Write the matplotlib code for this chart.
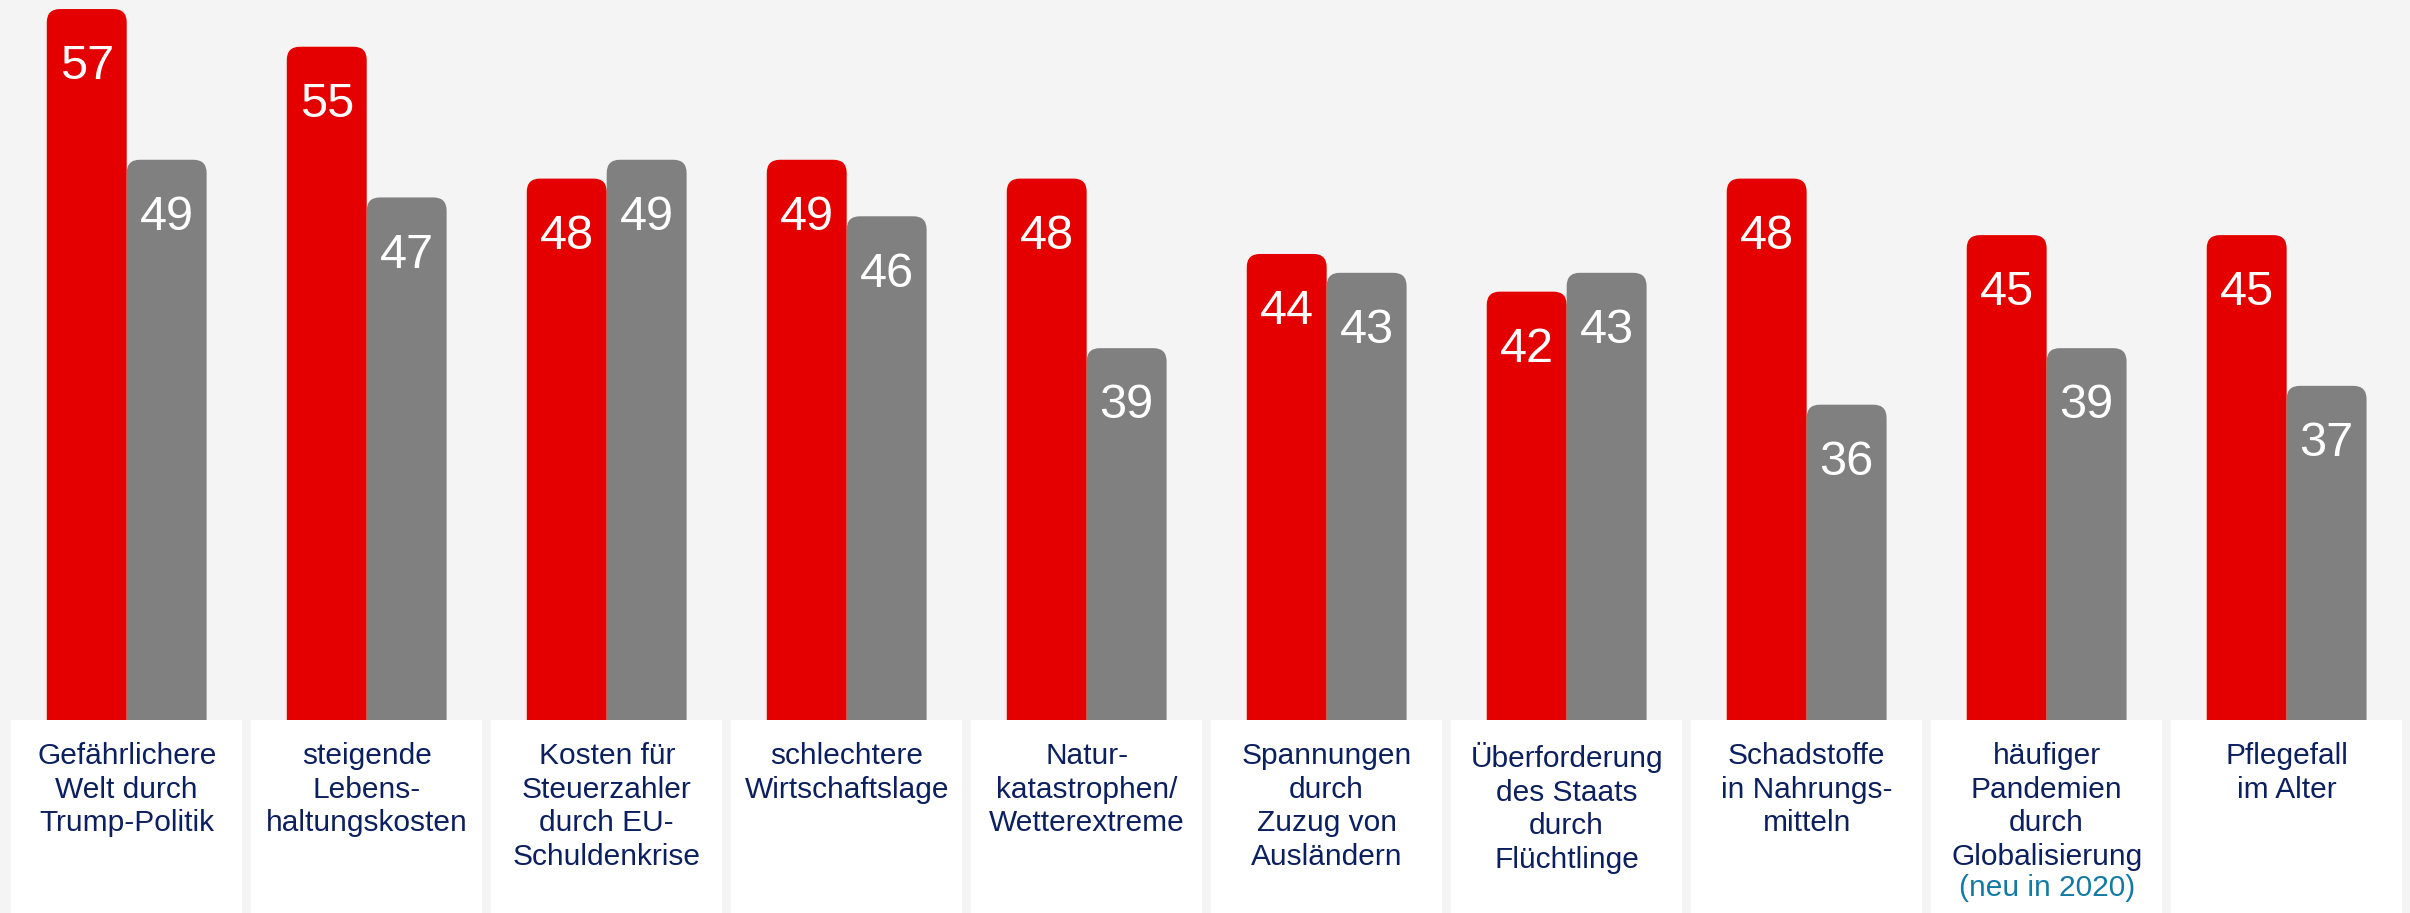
import matplotlib
matplotlib.use('Agg')
import matplotlib.pyplot as plt
from matplotlib.patches import FancyBboxPatch, Rectangle
from matplotlib.transforms import blended_transform_factory

# --- data ---
categories = [
    'Gefährlichere\nWelt durch\nTrump-Politik',
    'steigende\nLebens-\nhaltungskosten',
    'Kosten für\nSteuerzahler\ndurch EU-\nSchuldenkrise',
    'schlechtere\nWirtschaftslage',
    'Natur-\nkatastrophen/\nWetterextreme',
    'Spannungen\ndurch\nZuzug von\nAusländern',
    'Überforderung\ndes Staats\ndurch\nFlüchtlinge',
    'Schadstoffe\nin Nahrungs-\nmitteln',
    'häufiger\nPandemien\ndurch\nGlobalisierung',
    'Pflegefall\nim Alter',
]
notes = ['', '', '', '', '', '', '', '', '(neu in 2020)', '']
red_values = [57, 55, 48, 49, 48, 44, 42, 48, 45, 45]
gray_values = [49, 47, 49, 46, 39, 43, 43, 36, 39, 37]

RED = '#e50000'
GRAY = '#808080'
NAVY = '#0c1f5e'
TEAL = '#147aa3'
BG = '#f4f4f4'

plt.rcParams['font.family'] = ['Liberation Sans', 'DejaVu Sans']

fig = plt.figure(figsize=(24.1, 9.13), dpi=100)
fig.patch.set_facecolor(BG)
ax = fig.add_axes([0, 0, 1, 1])
ax.set_facecolor(BG)
ax.set_xlim(-0.528, 9.514)
ax.set_ylim(9.02, 57.48)
ax.axis('off')

bar_w = 0.333
# x units are 240 px, y units ~18.84 px -> keep round corners circular
aspect = 240 / 18.84
radius = 0.055

for i, (r, g) in enumerate(zip(red_values, gray_values)):
    for val, left, col in [(r, i - bar_w, RED), (g, i, GRAY)]:
        p = FancyBboxPatch((left, 0), bar_w, val,
                           boxstyle='round,pad=0,rounding_size=%f' % radius,
                           mutation_aspect=aspect,
                           facecolor=col, edgecolor='none', zorder=2)
        ax.add_patch(p)
        ax.annotate(str(val), (left + bar_w / 2, val), xytext=(0, -38),
                    textcoords='offset points', ha='center',
                    va='center_baseline', color='white', fontsize=35,
                    zorder=4)

# --- label boxes below the bars ---
trans = blended_transform_factory(ax.transData, ax.transAxes)
box_w = 0.9625
box_top = 193 / 913
for i, (cat, note) in enumerate(zip(categories, notes)):
    ax.add_patch(Rectangle((i - box_w / 2, 0), box_w, box_top, transform=trans,
                           facecolor='white', edgecolor='none', zorder=3,
                           clip_on=False))
    ax.text(i, 1 - 742 / 913, cat, transform=trans, ha='center', va='top',
            color=NAVY, fontsize=21.5, linespacing=1.25, zorder=5)
    if note:
        ax.text(i, 1 - 874 / 913, note, transform=trans, ha='center', va='top',
                color=TEAL, fontsize=21.5, zorder=5)

fig.savefig('out.png', dpi=100, facecolor=BG)
